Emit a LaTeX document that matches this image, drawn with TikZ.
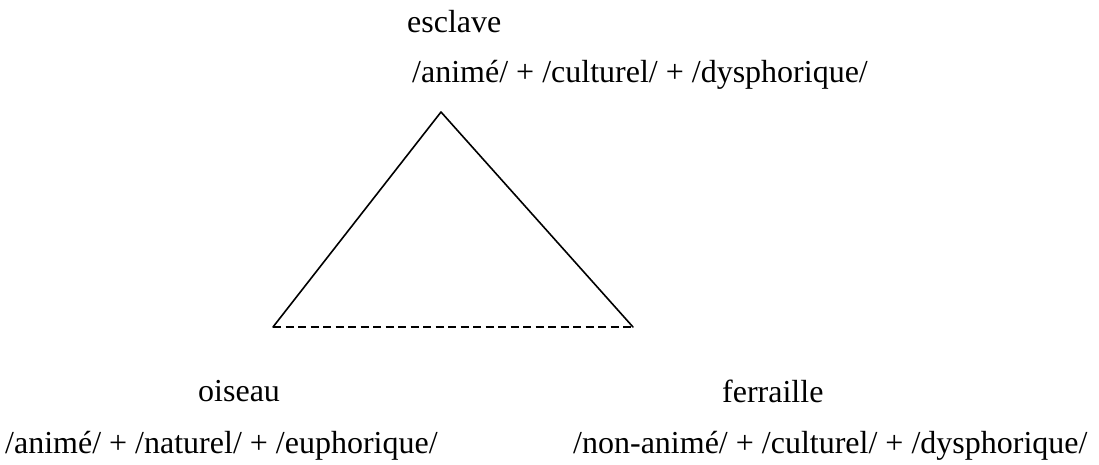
\documentclass[tikz,border=0pt]{standalone}
\usepackage{fontspec}
\setmainfont{Liberation Serif}
\begin{document}
\begin{tikzpicture}[x=1pt, y=-1pt, line cap=round, line join=round]
% Semiotic triangle, pixel grid of the page
\tikzset{
  semword/.style={anchor=base west, inner sep=0pt, font=\fontsize{32}{38}\selectfont},
  semside/.style={line width=1.6pt},
  semopp/.style={line width=1.6pt, line cap=butt, dash pattern=on 8pt off 4.5pt}
}
\useasboundingbox (0,0) rectangle (1099,464);
% Vertices
\coordinate (esclaveV) at (441,112);
\coordinate (oiseauV) at (273,327);
\coordinate (ferrailleV) at (633,327);
% Sides
\draw[semside] (oiseauV) -- (esclaveV) -- (ferrailleV);
\draw[semopp] (oiseauV) -- (ferrailleV);
% Labels
\node[semword] (esclave) at (407,32) {esclave};
\node[semword] (esclaveSemes) at (412,82) {/animé/ + /culturel/ + /dysphorique/};
\node[semword] (oiseau) at (198,401) {oiseau};
\node[semword] (oiseauSemes) at (5,453) {/animé/ + /naturel/ + /euphorique/};
\node[semword] (ferraille) at (722,402) {ferraille};
\node[semword] (ferrailleSemes) at (573,453) {/non-animé/ + /culturel/ + /dysphorique/};
\end{tikzpicture}
\end{document}
